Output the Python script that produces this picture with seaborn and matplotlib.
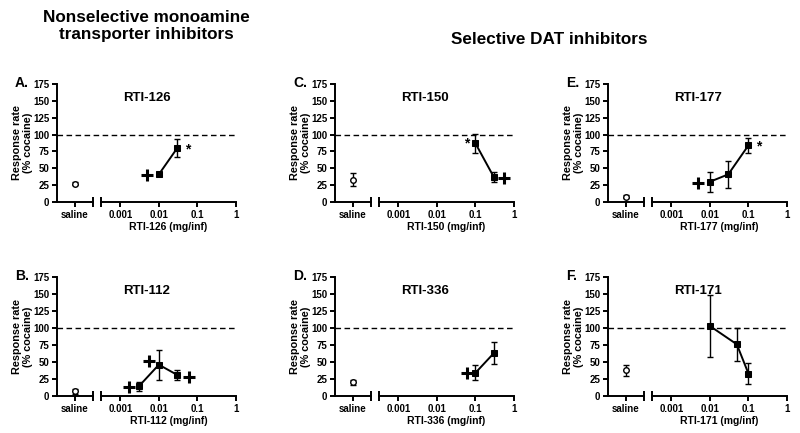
import numpy as np
import pandas as pd
import seaborn as sns
from matplotlib import pyplot as plt
from matplotlib.ticker import FixedLocator, NullFormatter

# panel data
labels = ["A.", "B.", "C.", "D.", "E.", "F."]
drugs = ["RTI-126", "RTI-112", "RTI-150", "RTI-336", "RTI-177", "RTI-171"]

saline_rate = [27, 7, 33, 20, 8, 38]
saline_err = [2, 4, 10, 4, 2, 8]

doses = [
    [0.01, 0.03],
    [0.003, 0.01, 0.03],
    [0.1, 0.3],
    [0.1, 0.3],
    [0.01, 0.03, 0.1],
    [0.01, 0.05, 0.1],
]
rates = [
    [41, 80],
    [14, 46, 31],
    [87, 37],
    [34, 63],
    [30, 41, 84],
    [103, 76, 33],
]
errs = [
    [2, 14],
    [6, 22, 7],
    [14, 7],
    [11, 16],
    [15, 20, 11],
    [45, 24, 15],
]

# significance marks (+ and *)
plus_x = [[0.005], [0.0017, 0.0055, 0.06], [0.55], [0.06], [0.005], []]
plus_y = [[40], [13, 51, 28], [36], [34], [28], []]
star_x = [[0.055], [], [0.06], [], [0.18], []]
star_y = [[78], [], [87], [], [82], []]

sns.set_style("ticks")
plt.rcParams['font.family'] = ['Liberation Sans', 'DejaVu Sans']
plt.rcParams['font.weight'] = 'bold'
plt.rcParams['axes.labelweight'] = 'bold'
for key in ['text.color', 'axes.labelcolor', 'xtick.color', 'ytick.color',
            'axes.edgecolor']:
    plt.rcParams[key] = 'black'

W, H = 800, 433
fig = plt.figure(figsize=(8, 4.33), dpi=100)


def box(x0, top, w, bottom):
    return [x0 / W, 1 - bottom / H, w / W, (bottom - top) / H]


# (y axis x, top, bottom) in pixels
layout = [(57, 84, 202), (57, 277, 396),
          (335, 84, 202), (335, 277, 396),
          (608, 84, 202), (608, 277, 396)]

for i in range(6):
    x0, top, bottom = layout[i]
    ax_s = fig.add_axes(box(x0, top, 36, bottom))
    ax_l = fig.add_axes(box(x0 + 44, top, 135, bottom))

    for ax in (ax_s, ax_l):
        ax.set_ylim(0, 175)
        for sp in ax.spines.values():
            sp.set_linewidth(1.4)
        ax.spines['top'].set_visible(False)
        ax.spines['right'].set_visible(False)
        ax.tick_params(width=1.4, length=3.5, pad=2, labelsize=7)

    # saline axis
    ax_s.set_xlim(-1, 1)
    ax_s.set_xticks([0])
    ax_s.set_xticklabels(['saline'])
    ax_s.xaxis.set_minor_locator(FixedLocator([1]))
    ax_s.xaxis.set_minor_formatter(NullFormatter())
    ax_s.tick_params(axis='x', which='minor', direction='inout', length=7, width=1.4)
    ax_s.set_yticks(np.arange(0, 176, 25))
    ax_s.set_ylabel('Response rate\n(% cocaine)', fontsize=7.8, labelpad=0,
                    linespacing=1.2)
    ax_s.errorbar([0], [saline_rate[i]], yerr=[saline_err[i]], fmt='none',
                  ecolor='k', capsize=2.5, elinewidth=1, capthick=1, zorder=2)
    sns.scatterplot(x=[0], y=[saline_rate[i]], ax=ax_s, marker='o', s=16,
                    facecolor='white', edgecolor='k', linewidth=1, zorder=3)

    # dose axis
    ax_l.set_xscale('log')
    ax_l.set_xlim(10 ** -3.5, 1)
    ax_l.set_xticks([0.001, 0.01, 0.1, 1])
    ax_l.set_xticklabels(['0.001', '0.01', '0.1', '1'])
    ax_l.xaxis.set_minor_locator(FixedLocator([10 ** -3.5]))
    ax_l.xaxis.set_minor_formatter(NullFormatter())
    ax_l.tick_params(axis='x', which='minor', direction='inout', length=7, width=1.4)
    ax_l.spines['left'].set_visible(False)
    ax_l.set_yticks([])

    ax_l.axhline(100, xmin=-44 / 135, xmax=1, ls='--', color='k', lw=1,
                 dashes=(4, 2.5), clip_on=False, zorder=1)

    df = pd.DataFrame({'dose': doses[i], 'rate': rates[i]})
    ax_l.errorbar(doses[i], rates[i], yerr=errs[i], fmt='none', ecolor='k',
                  capsize=2.5, elinewidth=1, capthick=1, zorder=2)
    sns.lineplot(data=df, x='dose', y='rate', ax=ax_l, color='k', lw=1.4,
                 marker='s', markersize=5, markeredgecolor='k', zorder=3)
    ax_l.set_xlabel(drugs[i] + ' (mg/inf)', fontsize=7.5, labelpad=2)
    ax_l.set_ylabel('')

    if plus_x[i]:
        ax_l.scatter(plus_x[i], plus_y[i], marker='+', s=80, color='k',
                     linewidths=2.2, zorder=3, clip_on=False)
    for sx, sy in zip(star_x[i], star_y[i]):
        ax_l.text(sx, sy, '*', ha='center', va='center', fontsize=10)

    fig.text((x0 - 42) / W, 1 - (top - 1) / H, labels[i], fontsize=10,
             ha='left', va='center')
    fig.text((x0 + 90) / W, 1 - (top + 14) / H, drugs[i], fontsize=9.5,
             ha='center', va='center')

fig.text(146 / W, 1 - 26 / H, 'Nonselective monoamine\ntransporter inhibitors',
         fontsize=12.3, ha='center', va='center', linespacing=1.1)
fig.text(549 / W, 1 - 40 / H, 'Selective DAT inhibitors', fontsize=12.3,
         ha='center', va='center')

plt.savefig('out.png', dpi=100)
